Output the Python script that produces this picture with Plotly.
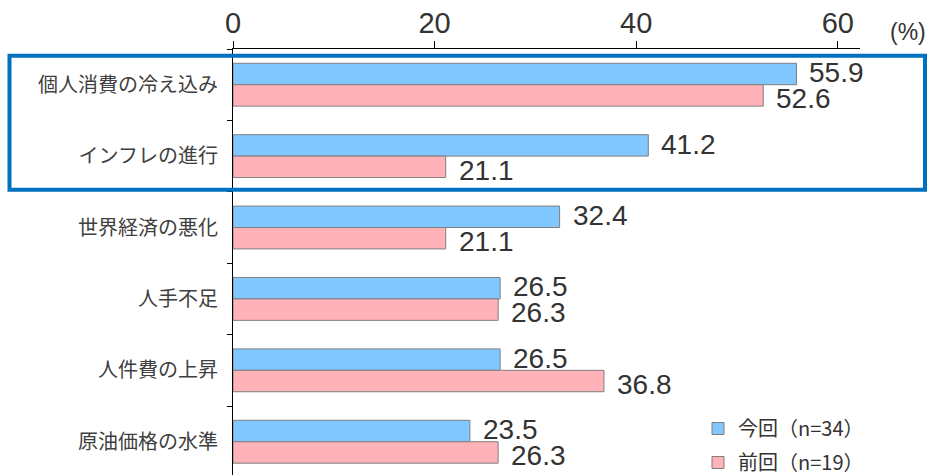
import plotly.graph_objects as go

categories = ["個人消費の冷え込み", "インフレの進行", "世界経済の悪化", "人手不足", "人件費の上昇", "原油価格の水準"]
current_vals = [55.9, 41.2, 32.4, 26.5, 26.5, 23.5]
previous_vals = [52.6, 21.1, 21.1, 26.3, 36.8, 26.3]
series_names = ["今回（n=34）", "前回（n=19）"]
x_ticks = [0, 20, 40, 60]

BLUE = "#80C8FF"
PINK = "#FFB2B7"
EDGE = "#7F7F7F"
TXT = "#333333"
NUMFONT = "Liberation Sans, Arial, Noto Sans CJK JP"
JPFONT = "Noto Sans CJK JP, sans-serif"

fig = go.Figure()
fig.add_trace(go.Bar(
    y=categories, x=current_vals, orientation="h", name=series_names[0],
    marker=dict(color=BLUE, line=dict(color=EDGE, width=1)),
    legendgroup="a",
))
fig.add_trace(go.Bar(
    y=categories, x=previous_vals, orientation="h", name=series_names[1],
    marker=dict(color=PINK, line=dict(color=EDGE, width=1)),
    legendgroup="b",
))

annotations = []
for cat, v in zip(categories, current_vals):
    annotations.append(dict(x=v, y=cat, xref="x", yref="y", text=f"{v:.1f}",
                            showarrow=False, xanchor="left", yanchor="middle",
                            xshift=11, yshift=12,
                            font=dict(family=NUMFONT, size=28, color=TXT)))
for cat, v in zip(categories, previous_vals):
    annotations.append(dict(x=v, y=cat, xref="x", yref="y", text=f"{v:.1f}",
                            showarrow=False, xanchor="left", yanchor="middle",
                            xshift=11, yshift=-14,
                            font=dict(family=NUMFONT, size=28, color=TXT)))
annotations.append(dict(x=(908 - 233) / 627, y=1 + (49 - 32) / 426, xref="paper", yref="paper", text="(%)",
                        showarrow=False, xanchor="center", yanchor="middle",
                        font=dict(family=NUMFONT, size=23, color=TXT)))

fig.update_layout(
    width=932, height=475,
    margin=dict(l=233, r=72, t=49, b=0, autoexpand=False),
    paper_bgcolor="white", plot_bgcolor="white",
    barmode="group", bargap=0.4, bargroupgap=0,
    showlegend=True,
    legend=dict(x=(698 - 233) / 627, y=1 - (409 - 49) / 426, xanchor="left", yanchor="top",
                traceorder="grouped", tracegroupgap=5,
                font=dict(family=JPFONT, size=20, color=TXT),
                bgcolor="rgba(0,0,0,0)"),
    annotations=annotations,
    xaxis=dict(
        side="top", range=[0, 62.2], tickvals=x_ticks,
        showgrid=False, zeroline=False,
        showline=True, linecolor="black", linewidth=1,
        ticks="outside", ticklen=7, tickcolor="black",
        ticklabelstandoff=-4,
        tickfont=dict(family=NUMFONT, size=29, color=TXT),
    ),
    yaxis=dict(
        range=[5.466, -0.5], type="category",
        showgrid=False, zeroline=False,
        showline=True, linecolor="black", linewidth=1,
        ticks="outside", ticklen=5, tickcolor="black", tickson="boundaries",
        ticklabelstandoff=10,
        tickfont=dict(family=JPFONT, size=20, color="#404040"),
    ),
    shapes=[dict(type="rect", xref="paper", yref="y",
                 x0=(9.5 - 233) / 627, x1=(925 - 233) / 627,
                 y0=-0.406, y1=1.47,
                 line=dict(color="#0070C0", width=4), fillcolor="rgba(0,0,0,0)",
                 layer="above")],
)

fig.write_html("out.html")
